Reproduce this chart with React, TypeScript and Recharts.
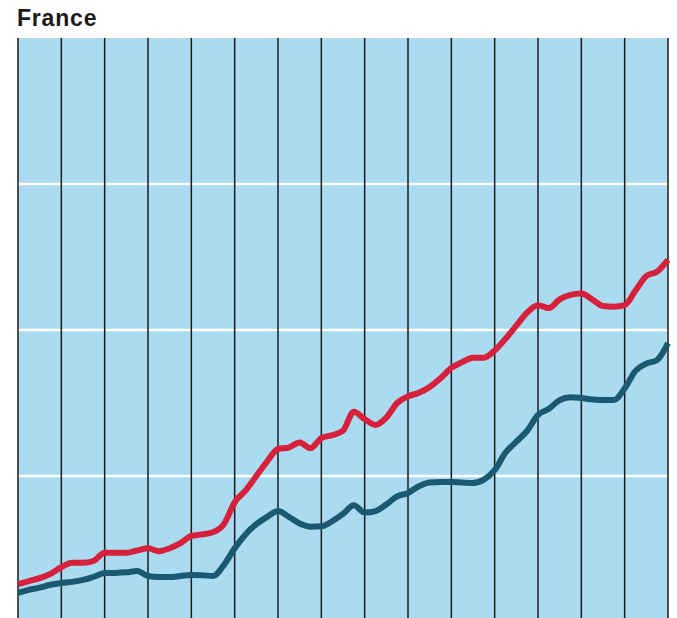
import { LineChart, Line, XAxis, YAxis, ReferenceLine, ReferenceArea } from "recharts";

// time in years from the start of the series, quarterly
const quarters = [
  0, 0.25, 0.5, 0.75, 1, 1.25, 1.5, 1.75, 2, 2.25, 2.5, 2.75, 3, 3.25, 3.5, 3.75,
  4, 4.25, 4.5, 4.75, 5, 5.25, 5.5, 5.75, 6, 6.25, 6.5, 6.75, 7, 7.25, 7.5, 7.75,
  8, 8.25, 8.5, 8.75, 9, 9.25, 9.5, 9.75, 10, 10.25, 10.5, 10.75, 11, 11.25, 11.5, 11.75,
  12, 12.25, 12.5, 12.75, 13, 13.25, 13.5, 13.75, 14, 14.25, 14.5, 14.75, 15,
];

const redSeries = [
  26, 28, 30, 33, 37.5, 40.5, 40.5, 42, 47.5, 47.5, 47.5, 49, 50.5, 48.5, 50.5, 54,
  59, 60, 61.5, 67, 82, 90, 100, 110, 118.5, 119.5, 123, 119, 126, 128, 131, 144,
  139, 135, 140, 150, 154.5, 157, 161, 167, 174, 178, 181, 181, 186, 194, 203, 212,
  217, 215, 221, 224, 225, 221, 216.5, 216, 217, 227, 237, 240, 248,
];

const tealSeries = [
  20, 22, 23.5, 25.5, 26.7, 27.5, 28.8, 31, 33.5, 33.6, 34, 34.9, 31.5, 30.8, 30.8, 31.5,
  32.2, 32, 31.5, 39, 50.5, 60, 67, 72, 76, 72, 67.5, 65.3, 65.5, 69, 74, 80,
  75, 76, 80.5, 86, 88.4, 93, 95.6, 95.9, 95.9, 95.5, 95.2, 97.5, 104, 116, 123.5, 131,
  141.8, 146, 152, 154, 153.4, 152.5, 152, 152, 160, 172, 177, 179.5, 191,
];

const yearLines = [0, 1, 2, 3, 4, 5, 6, 7, 8, 9, 10, 11, 12, 13, 14, 15];
const levelLines = [100, 200, 300];

const data = quarters.map((t, i) => ({ t, red: redSeries[i], teal: tealSeries[i] }));

export default function App() {
  return (
    <div
      style={{
        position: "fixed",
        left: 0,
        top: 0,
        width: 677,
        height: 618,
        overflow: "hidden",
        background: "#fff",
      }}
    >
      <div
        style={{
          position: "absolute",
          left: 17,
          top: 7,
          fontFamily: "'Liberation Sans', Arial, sans-serif",
          fontWeight: 700,
          fontSize: 23,
          lineHeight: "23px",
          letterSpacing: 0.8,
          color: "#1a1a1a",
        }}
      >
        France
      </div>
      <LineChart
        width={677}
        height={640}
        data={data}
        margin={{ top: 38, right: 9, bottom: 18, left: 18 }}
      >
        <XAxis dataKey="t" type="number" domain={[0, 15]} hide />
        <YAxis type="number" domain={[0, 400]} hide />
        <ReferenceArea x1={0} x2={15} y1={0} y2={400} fill="#aadbf0" fillOpacity={1} stroke="none" />
        {levelLines.map((v) => (
          <ReferenceLine key={"h" + v} y={v} stroke="#ffffff" strokeWidth={2.5} />
        ))}
        {yearLines.map((y) => (
          <ReferenceLine key={"v" + y} x={y} stroke="#1b1b1b" strokeWidth={1.5} />
        ))}
        <Line
          type="monotone"
          dataKey="teal"
          stroke="#1b5871"
          strokeWidth={6}
          dot={false}
          isAnimationActive={false}
        />
        <Line
          type="monotone"
          dataKey="red"
          stroke="#d7203b"
          strokeWidth={6}
          dot={false}
          isAnimationActive={false}
        />
      </LineChart>
    </div>
  );
}
